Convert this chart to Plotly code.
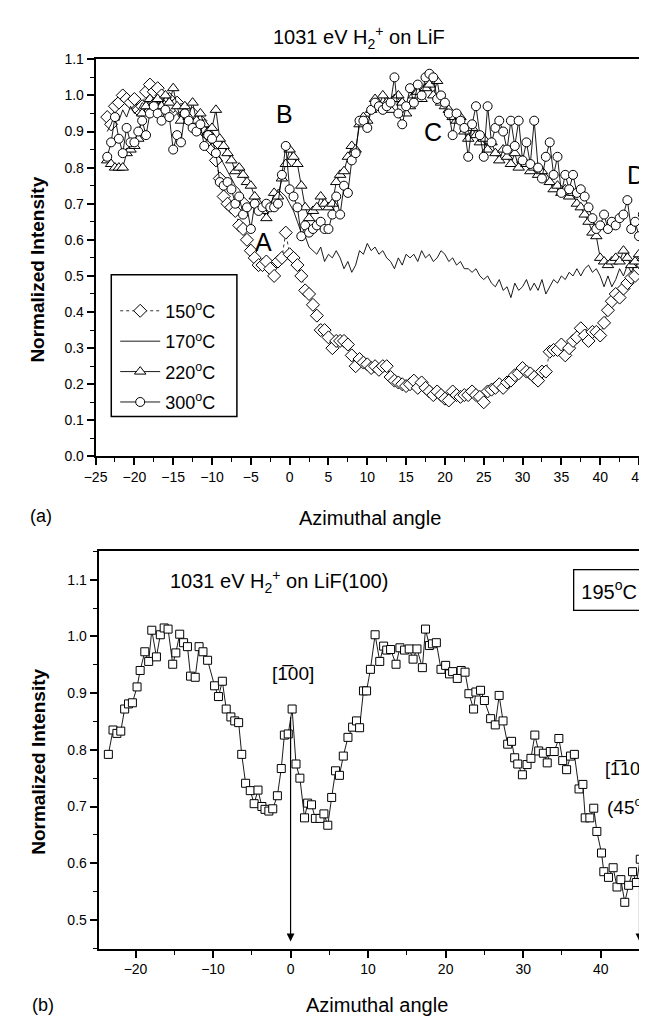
import plotly.graph_objects as go

W, H = 647, 1017
FONT = "Liberation Sans, Arial, Helvetica, sans-serif"

# ---------------- panel (a) data ----------------
angles_a = [round(-23.5 + 0.5 * i, 1) for i in range(141)]

t150 = [0.94, 0.92, 0.97, 0.98, 1.00, 0.99, 0.98, 0.99, 0.96, 0.97,
        1.01, 1.03, 1.01, 1.02, 1.00, 0.98, 0.99, 0.97, 0.98, 0.96,
        0.95, 0.94, 0.95, 0.93, 0.93, 0.90, 0.89, 0.85, 0.82, 0.77,
        0.72, 0.70, 0.69, 0.68, 0.64, 0.63, 0.60, 0.57, 0.55, 0.53,
        0.53, 0.54, 0.52, 0.50, 0.54, 0.55, 0.62, 0.56, 0.55, 0.53,
        0.50, 0.46, 0.45, 0.42, 0.39, 0.35, 0.35, 0.33, 0.30, 0.32,
        0.32, 0.32, 0.31, 0.28, 0.25, 0.27, 0.26, 0.255, 0.245, 0.25,
        0.24, 0.25, 0.25, 0.22, 0.21, 0.205, 0.20, 0.195, 0.20, 0.21,
        0.19, 0.205, 0.19, 0.18, 0.17, 0.18, 0.17, 0.16, 0.155, 0.18,
        0.17, 0.165, 0.17, 0.17, 0.18, 0.17, 0.165, 0.15, 0.18, 0.185,
        0.19, 0.20, 0.19, 0.205, 0.21, 0.225, 0.23, 0.245, 0.235, 0.23,
        0.22, 0.21, 0.235, 0.235, 0.29, 0.295, 0.295, 0.31, 0.28, 0.30,
        0.32, 0.33, 0.355, 0.335, 0.32, 0.345, 0.345, 0.335, 0.37, 0.405,
        0.43, 0.45, 0.44, 0.465, 0.48, 0.495, 0.50, 0.52, 0.53, 0.535,
        0.54]

t170 = [0.90, 0.92, 0.95, 0.93, 0.96, 0.94, 0.97, 0.95, 0.96, 0.98,
        0.97, 0.99, 0.97, 0.98, 0.96, 0.97, 0.95, 0.94, 0.95, 0.93,
        0.94, 0.92, 0.93, 0.91, 0.90, 0.89, 0.88, 0.86, 0.85, 0.83,
        0.81, 0.79, 0.77, 0.75, 0.74, 0.72, 0.71, 0.70, 0.69, 0.68,
        0.69, 0.68, 0.70, 0.72, 0.74, 0.73, 0.72, 0.70, 0.68, 0.65,
        0.62, 0.61, 0.58, 0.57, 0.56, 0.58, 0.54, 0.56, 0.55, 0.57,
        0.55, 0.52, 0.54, 0.51, 0.53, 0.57, 0.56, 0.59, 0.57, 0.58,
        0.56, 0.57, 0.55, 0.54, 0.52, 0.55, 0.53, 0.56, 0.55, 0.56,
        0.54, 0.57, 0.55, 0.56, 0.54, 0.55, 0.57, 0.56, 0.54, 0.55,
        0.53, 0.54, 0.52, 0.52, 0.51, 0.52, 0.50, 0.49, 0.50, 0.48,
        0.47, 0.49, 0.46, 0.47, 0.44, 0.48, 0.46, 0.47, 0.49, 0.46,
        0.48, 0.46, 0.49, 0.45, 0.47, 0.49, 0.48, 0.50, 0.49, 0.51,
        0.50, 0.52, 0.50, 0.52, 0.53, 0.51, 0.52, 0.50, 0.47, 0.50,
        0.47, 0.49, 0.52, 0.50, 0.53, 0.51, 0.53, 0.52, 0.54, 0.53,
        0.55]

t220 = [0.82, 0.81, 0.80, 0.80, 0.80, 0.84, 0.85, 0.86, 0.88, 0.95,
        0.97, 0.99, 0.98, 0.99, 0.97, 1.00, 0.98, 1.02, 0.97, 0.93,
        0.97, 0.94, 0.98, 0.93, 0.95, 0.92, 0.90, 0.91, 0.96, 0.88,
        0.86, 0.84, 0.82, 0.79, 0.80, 0.78, 0.76, 0.75, 0.72, 0.70,
        0.68, 0.66, 0.69, 0.73, 0.72, 0.77, 0.81, 0.85, 0.83, 0.81,
        0.75, 0.69, 0.66, 0.68, 0.69, 0.72, 0.70, 0.69, 0.70, 0.76,
        0.78, 0.79, 0.83, 0.86, 0.85, 0.92, 0.94, 0.93, 0.96, 0.99,
        0.97, 1.00, 0.98, 0.96, 0.99, 1.00, 0.98, 0.95, 0.97, 1.00,
        1.01, 0.99, 1.02, 1.03, 1.00, 1.04, 0.98, 0.97, 0.96, 0.94,
        0.93, 0.94, 0.90, 0.88, 0.91, 0.89, 0.87, 0.88, 0.85, 0.87,
        0.84, 0.82, 0.85, 0.83, 0.81, 0.84, 0.80, 0.82, 0.81, 0.79,
        0.80, 0.78, 0.79, 0.77, 0.76, 0.74, 0.75, 0.73, 0.74, 0.72,
        0.73, 0.70, 0.69, 0.67, 0.65, 0.62, 0.61, 0.55, 0.54, 0.53,
        0.54, 0.55, 0.54, 0.57, 0.55, 0.53, 0.54, 0.56, 0.55, 0.57,
        0.56]

t300 = [0.83, 0.87, 0.94, 0.88, 0.84, 0.91, 0.87, 0.87, 0.90, 0.93,
        0.89, 0.95, 0.97, 0.95, 0.93, 0.96, 0.94, 0.85, 0.89, 0.87,
        0.95, 0.93, 0.91, 0.90, 0.92, 0.86, 0.89, 0.88, 0.84, 0.76,
        0.75, 0.76, 0.74, 0.70, 0.72, 0.67, 0.69, 0.63, 0.70, 0.68,
        0.69, 0.70, 0.69, 0.69, 0.70, 0.78, 0.86, 0.74, 0.72, 0.69,
        0.61, 0.64, 0.62, 0.63, 0.64, 0.65, 0.63, 0.63, 0.67, 0.72,
        0.67, 0.75, 0.73, 0.82, 0.84, 0.93, 0.93, 0.91, 0.96, 0.98,
        0.97, 0.96, 0.97, 0.98, 1.05, 0.95, 0.92, 0.97, 1.02, 0.98,
        1.03, 1.00, 1.05, 1.06, 1.05, 0.99, 1.00, 0.98, 0.95, 0.89,
        0.95, 0.93, 0.91, 0.83, 0.92, 0.97, 0.89, 0.83, 0.97, 0.87,
        0.91, 0.93, 0.90, 0.85, 0.93, 0.86, 0.93, 0.82, 0.87, 0.81,
        0.93, 0.80, 0.77, 0.83, 0.87, 0.78, 0.83, 0.73, 0.78, 0.74,
        0.78, 0.73, 0.74, 0.72, 0.69, 0.66, 0.63, 0.64, 0.67, 0.63,
        0.65, 0.64, 0.66, 0.67, 0.71, 0.63, 0.65, 0.61, 0.67, 0.62,
        0.65]

series_names = ["150<sup>o</sup>C", "170<sup>o</sup>C", "220<sup>o</sup>C", "300<sup>o</sup>C"]

# ---------------- panel (b) data ----------------
angles_b = [-23.5, -22.9, -22.4, -21.9, -21.4, -20.9, -20.4, -19.8, -19.4, -18.8,
            -18.3, -17.9, -17.3, -16.8, -16.3, -15.8, -15.2, -14.8, -14.3, -13.8,
            -13.3, -12.9, -12.3, -11.8, -11.3, -10.7, -9.8, -9.3, -8.8, -8.3,
            -7.7, -7.2, -6.7, -6.3, -5.8, -5.2, -4.7, -4.2, -3.7, -3.3,
            -2.8, -2.3, -1.7, -1.2, -0.8, -0.3, 0.2, 0.7, 1.2, 1.8,
            2.2, 2.7, 3.2, 3.8, 4.3, 4.8, 5.3, 5.8, 6.3, 6.8,
            7.4, 8.0, 8.5, 8.9, 9.4, 9.8, 10.3, 10.9, 11.5, 12.0,
            12.4, 12.9, 13.6, 14.1, 14.7, 15.3, 15.8, 16.3, 17.0, 17.4,
            17.9, 18.3, 18.8, 19.4, 20.0, 20.5, 20.9, 21.5, 22.0, 22.5,
            23.0, 23.6, 23.9, 24.5, 25.0, 25.8, 26.4, 26.9, 27.4, 28.0,
            28.5, 28.9, 29.3, 29.9, 30.5, 31.0, 31.5, 32.0, 32.6, 33.1,
            33.5, 34.0, 34.6, 35.1, 35.6, 36.1, 36.6, 37.2, 37.7, 38.0,
            38.6, 39.1, 39.5, 40.1, 40.4, 41.0, 41.6, 42.1, 42.6, 43.1,
            43.6, 44.1, 44.6, 45.1, 45.7, 46.2, 46.6]

t195 = [0.792, 0.835, 0.829, 0.833, 0.872, 0.881, 0.883, 0.911, 0.940, 0.973,
        0.956, 1.011, 0.964, 1.003, 1.015, 1.013, 0.951, 0.971, 1.004, 0.989,
        0.982, 0.930, 0.928, 0.982, 0.973, 0.958, 0.913, 0.894, 0.921, 0.872,
        0.858, 0.851, 0.848, 0.792, 0.741, 0.728, 0.705, 0.729, 0.700, 0.695,
        0.692, 0.696, 0.719, 0.767, 0.826, 0.828, 0.872, 0.775, 0.750, 0.680,
        0.706, 0.703, 0.679, 0.679, 0.687, 0.667, 0.716, 0.763, 0.755, 0.789,
        0.822, 0.840, 0.851, 0.839, 0.904, 0.904, 0.942, 1.003, 0.956, 0.983,
        0.976, 0.977, 0.951, 0.980, 0.976, 0.978, 0.960, 0.978, 0.945, 1.013,
        0.984, 0.987, 0.989, 0.942, 0.949, 0.934, 0.938, 0.926, 0.940, 0.937,
        0.899, 0.872, 0.902, 0.905, 0.887, 0.855, 0.844, 0.896, 0.851, 0.810,
        0.815, 0.786, 0.775, 0.756, 0.774, 0.785, 0.826, 0.798, 0.794, 0.777,
        0.797, 0.797, 0.820, 0.781, 0.765, 0.789, 0.792, 0.731, 0.739, 0.680,
        0.680, 0.697, 0.656, 0.618, 0.585, 0.575, 0.592, 0.558, 0.571, 0.531,
        0.561, 0.585, 0.566, 0.607, 0.572, 0.579, 0.556]

# crystal directions marked with arrows in (b)
arrow_angles = [0, 45]
arrow_tops = [0.86, 0.60]


def px(xp):
    return xp / W


def py(yp):
    return 1 - yp / H


fig = go.Figure()

mk = dict(color="white", line=dict(color="black", width=1))
fig.add_trace(go.Scatter(x=angles_a, y=t150, name=series_names[0], mode="lines+markers",
                         legendgroup="g1",
                         line=dict(color="black", width=0.8, dash="dot"),
                         marker=dict(symbol="diamond", size=10, **mk), xaxis="x", yaxis="y"))
fig.add_trace(go.Scatter(x=angles_a, y=t170, name=series_names[1], mode="lines",
                         legendgroup="g2",
                         line=dict(color="black", width=0.9), xaxis="x", yaxis="y"))
fig.add_trace(go.Scatter(x=angles_a, y=t220, name=series_names[2], mode="lines+markers",
                         legendgroup="g3",
                         line=dict(color="black", width=0.9),
                         marker=dict(symbol="triangle-up", size=10, **mk), xaxis="x", yaxis="y"))
fig.add_trace(go.Scatter(x=angles_a, y=t300, name=series_names[3], mode="lines+markers",
                         legendgroup="g4",
                         line=dict(color="black", width=0.9),
                         marker=dict(symbol="circle", size=9, **mk), xaxis="x", yaxis="y"))

fig.add_trace(go.Scatter(x=angles_b, y=t195, name="195", mode="lines+markers", showlegend=False,
                         line=dict(color="black", width=0.9),
                         marker=dict(symbol="square", size=8, **mk), xaxis="x2", yaxis="y2"))

axis_common = dict(showline=True, linecolor="black", linewidth=1.8, ticks="outside",
                   ticklen=7, tickwidth=1.5, tickcolor="black", showgrid=False,
                   zeroline=False, tickfont=dict(family=FONT, size=14, color="black"))

fig.update_layout(
    width=W, height=H,
    margin=dict(l=0, r=0, t=0, b=0),
    paper_bgcolor="white", plot_bgcolor="white",
    font=dict(family=FONT, color="black"),
    showlegend=True,
    legend=dict(x=px(97), y=py(281), xanchor="left", yanchor="top",
                borderwidth=0, bgcolor="rgba(0,0,0,0)",
                font=dict(family=FONT, size=18, color="black"),
                tracegroupgap=4, itemwidth=40),
    xaxis=dict(domain=[px(77), 1.0], anchor="y", range=[-25, 47.06], tick0=-25, dtick=5,
               mirror=True,
               minor=dict(ticks="outside", ticklen=4, tickwidth=1.2, dtick=2.5, tick0=-25,
                          tickcolor="black", showgrid=False),
               **axis_common),
    yaxis=dict(domain=[py(447.5), py(44)], anchor="x", range=[0, 1.1], tick0=0, dtick=0.1,
               tickformat=".1f",
               minor=dict(ticks="outside", ticklen=4, tickwidth=1.2, dtick=0.05, tick0=0,
                          tickcolor="black", showgrid=False),
               **axis_common),
    xaxis2=dict(domain=[px(80), 1.0], anchor="y2", range=[-24.77, 47.0], tick0=0, dtick=10,
                mirror=True,
                minor=dict(ticks="outside", ticklen=4, tickwidth=1.2, dtick=5, tick0=0,
                           tickcolor="black", showgrid=False),
                **axis_common),
    yaxis2=dict(domain=[py(947.7), py(544)], anchor="x2", range=[0.449, 1.15], tick0=0.5,
                dtick=0.1, tickformat=".1f",
                minor=dict(ticks="outside", ticklen=4, tickwidth=1.2, dtick=0.05, tick0=0.5,
                           tickcolor="black", showgrid=False),
                **axis_common),
)

# legend frame
fig.add_shape(type="rect", xref="paper", yref="paper", x0=px(93), x1=px(221),
              y0=py(407), y1=py(263), line=dict(color="black", width=1.5), layer="below")

ann = []


def text(x, y, s, size=18, **kw):
    d = dict(x=px(x), y=py(y), xref="paper", yref="paper", text=s, showarrow=False,
             font=dict(family=FONT, size=size, color="black"), xanchor="center", yanchor="middle")
    d.update(kw)
    ann.append(d)


# titles and labels
text(345, 22, "1031 eV H<sub>2</sub><sup>+</sup> on LiF", size=20)
text(357, 510, "Azimuthal angle", size=20)
text(364, 1005, "Azimuthal angle", size=20)
text(18, 258, "<b>Normalized Intensity</b>", size=19, textangle=-90)
text(18, 758, "<b>Normalized Intensity</b>", size=19, textangle=-90)
text(21, 508, "(a)", size=18)
text(23, 1005, "(b)", size=18)

# peak letters
text(270, 100, "B", size=25)
text(421, 118, "C", size=25)
text(628, 162, "D", size=25)
text(248, 230, "A", size=25)

# panel b labels
text(264, 575, "1031 eV H<sub>2</sub><sup>+</sup> on LiF(100)", size=20)
text(600, 583, "195<sup>o</sup>C", size=20, bordercolor="black", borderwidth=1.3,
     borderpad=7, bgcolor="white")
text(278, 668, "[1\u030500]", size=19)
text(639, 765, "[1\u030510]", size=18, xanchor="right")
text(619, 803, "(45<sup>o</sup>)", size=19)

for ang, top in zip(arrow_angles, arrow_tops):
    ann.append(dict(x=ang, y=0.462, xref="x2", yref="y2", ax=ang, ay=top, axref="x2", ayref="y2",
                    text="", showarrow=True, arrowhead=2, arrowsize=1.3, arrowwidth=1.2,
                    arrowcolor="black"))

fig.update_layout(annotations=ann)

fig.write_html("out.html")
